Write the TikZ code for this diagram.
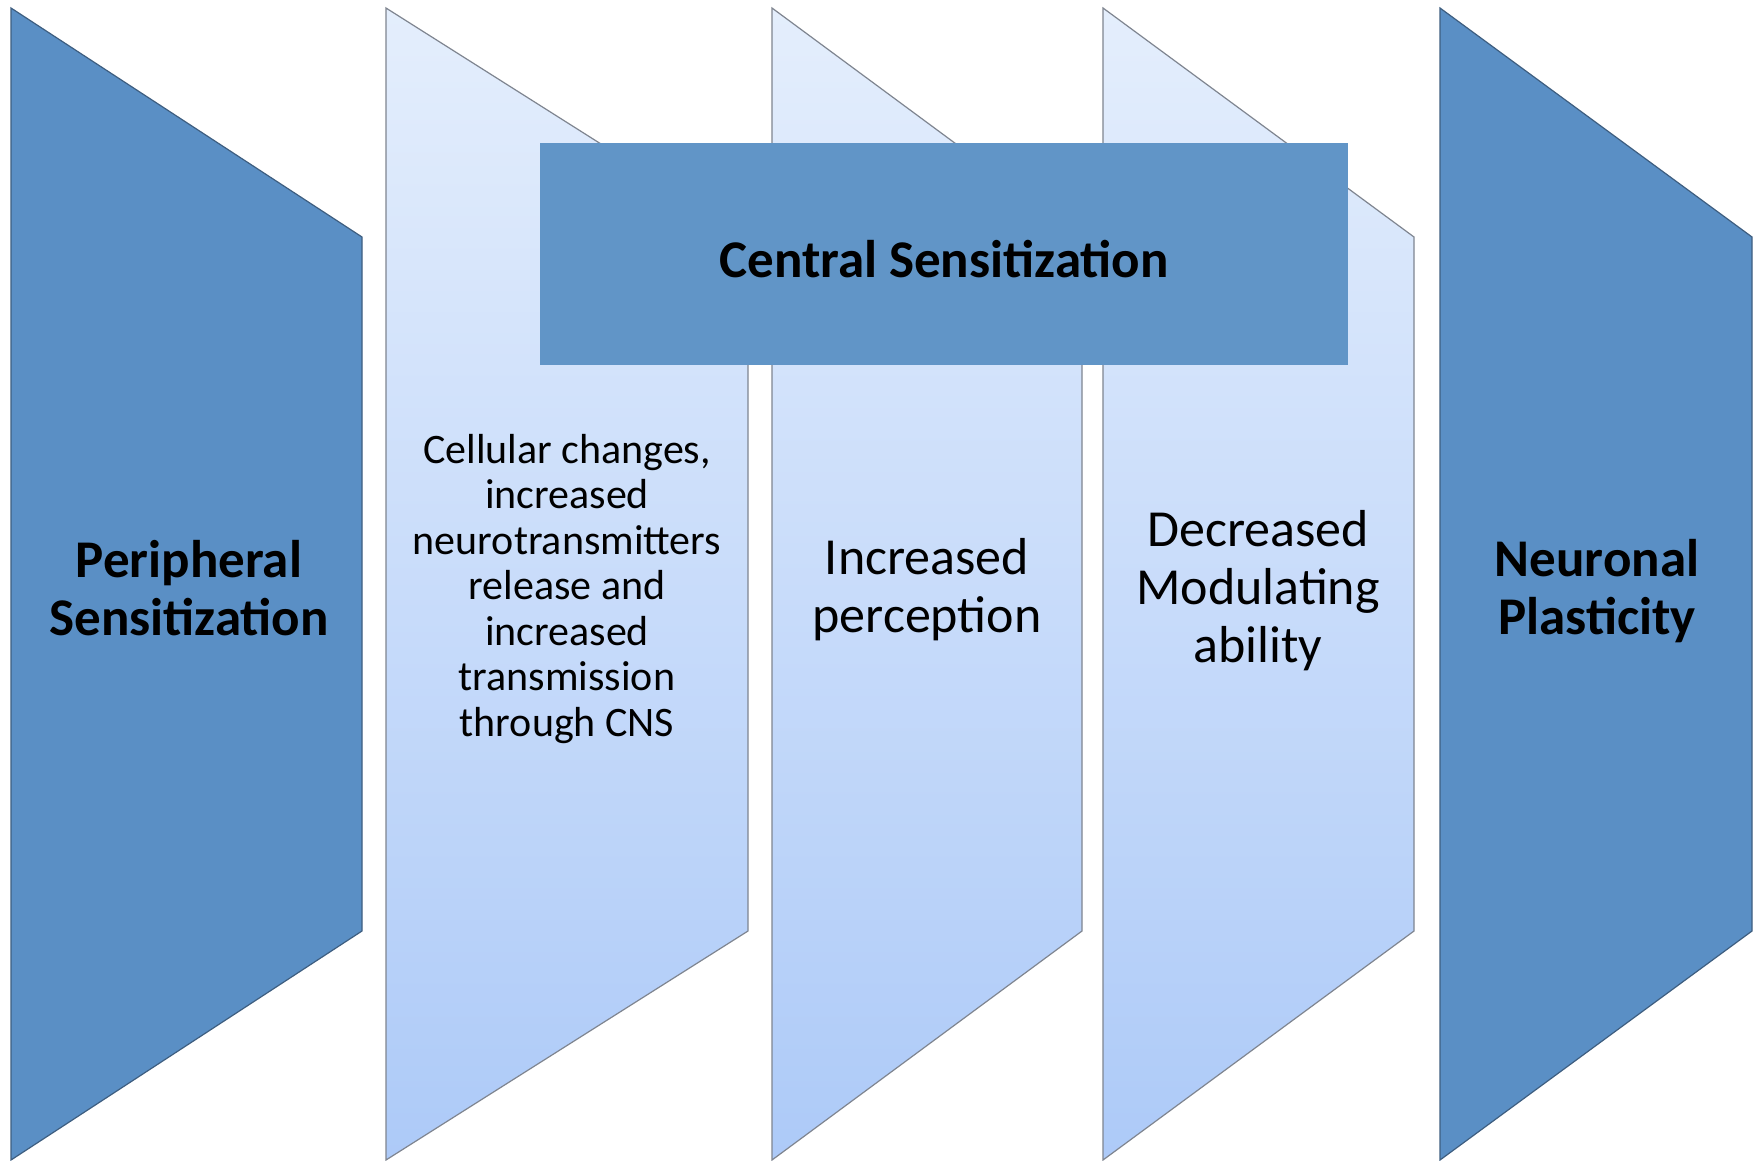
\documentclass[tikz,border=0pt]{standalone}
\usepackage{fontspec}
\setmainfont{Carlito}
\definecolor{darkfill}{HTML}{5A8FC5}
\definecolor{darkedge}{HTML}{3E5E80}
\definecolor{boxfill}{HTML}{6195C7}
\definecolor{lighttop}{HTML}{E4EEFC}
\definecolor{lightbot}{HTML}{ADCAF8}
\definecolor{lightedge}{HTML}{7F8590}
\begin{document}
\begin{tikzpicture}[x=1pt,y=-1pt,
  darkpanel/.style={fill=darkfill, draw=darkedge, line width=1.2pt, line join=miter},
  lightpanel/.style={top color=lighttop, bottom color=lightbot, draw=lightedge, line width=1.2pt, line join=miter},
  centralbox/.style={fill=boxfill, draw=none, minimum width=808pt, minimum height=222pt, inner sep=0pt},
  boldlabel/.style={align=center, inner sep=0pt, font=\fontsize{53}{58}\selectfont\bfseries},
  biglabel/.style={align=center, inner sep=0pt, font=\fontsize{52}{58}\selectfont},
  smalllabel/.style={align=center, inner sep=0pt, font=\fontsize{42}{45.5}\selectfont}]
\useasboundingbox (0,0) rectangle (1754,1160);
\fill[white] (0,0) rectangle (1754,1160);
% panels
\path[darkpanel] (11,8) -- (362,237) -- (362,931) -- (11,1160) -- cycle;
\path[lightpanel] (386,8) -- (748,237) -- (748,931) -- (386,1160) -- cycle;
\path[lightpanel] (772,8) -- (1082,237) -- (1082,931) -- (772,1160) -- cycle;
\path[lightpanel] (1103,8) -- (1414,237) -- (1414,931) -- (1103,1160) -- cycle;
\path[darkpanel] (1440,8) -- (1752,237) -- (1752,931) -- (1440,1160) -- cycle;
% central box
\node[centralbox] (central) at (944,254) {};
\node[boldlabel] (centraltitle) at (944,259) {Central Sensitization};
% labels
\node[boldlabel] (peripheral) at (189,588) {Peripheral\\Sensitization};
\node[smalllabel] (cellular) at (567,589) {Cellular changes,\\increased\\neurotransmitters\\release and\\increased\\transmission\\through CNS};
\node[biglabel] (perception) at (927,590) {Increased\\perception};
\node[biglabel] (modulating) at (1258,591) {Decreased\\Modulating\\ability};
\node[boldlabel] (plasticity) at (1597,591) {Neuronal\\Plasticity};
\end{tikzpicture}
\end{document}
